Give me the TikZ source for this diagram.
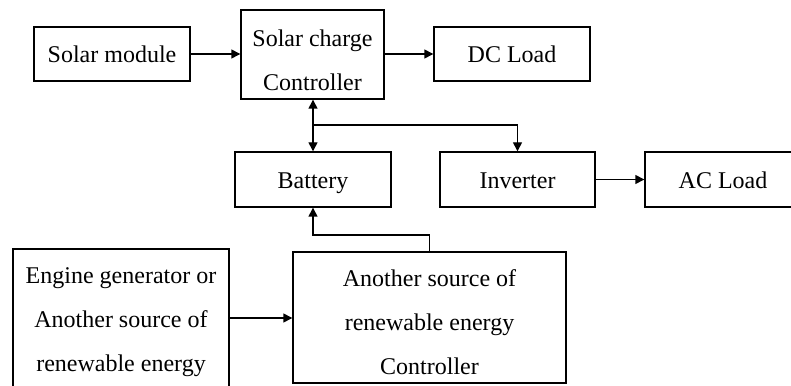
\documentclass[tikz,border=0pt]{standalone}
\usepackage{fontspec}
\setmainfont{Liberation Serif}
\usetikzlibrary{arrows.meta}
\newcommand{\topstrut}[1]{\rule{0pt}{#1pt}}
\newcommand{\botstrut}[1]{\rule[-#1pt]{0pt}{#1pt}}
\begin{document}
\begin{tikzpicture}[x=1pt,y=1pt,
  box/.style={draw,line width=1.4pt,rectangle,inner sep=0pt,align=center,
    font=\fontsize{24}{44}\selectfont},
  one/.style={text height=20pt,text depth=2pt},
  conn/.style={line width=1.4pt,-{Triangle[length=9pt,width=9pt]}},
  dconn/.style={line width=1.4pt,{Triangle[length=9pt,width=9pt]}-{Triangle[length=9pt,width=9pt]}}]
\useasboundingbox (0,0) rectangle (791,385);
\clip (0,0) rectangle (791,385);
\fill[white] (0,0) rectangle (791,385);
\node[box,one,minimum width=156pt,minimum height=54pt] (sm) at (112,331) {Solar module};
\node[box,minimum width=143pt,minimum height=89pt] (scc) at (312.5,330.5) {\topstrut{30}Solar charge\\Controller\botstrut{1.5}};
\node[box,one,minimum width=156pt,minimum height=54pt] (dc) at (512,331) {DC Load};
\node[box,one,minimum width=156pt,minimum height=55pt] (bat) at (313,205.5) {Battery};
\node[box,one,minimum width=155pt,minimum height=55pt] (inv) at (517.5,205.5) {Inverter};
\node[box,one,minimum width=156pt,minimum height=55pt] (ac) at (723,205.5) {AC Load};
\node[box,minimum width=216pt,minimum height=138pt] (eng) at (121,67) {\topstrut{24}Engine generator or\\Another source of\\renewable energy\botstrut{1}};
\node[box,minimum width=273pt,minimum height=131pt] (ctrl) at (429.5,67.5) {\topstrut{28}Another source of\\renewable energy\\Controller\botstrut{1.5}};
\coordinate (jn) at (313,260);
\coordinate (cb) at (429.5,150);
\draw[conn] (sm.east) -- (sm.east -| scc.west);
\draw[conn] (scc.east |- dc.west) -- (dc.west);
\draw[dconn] (scc.south -| bat.north) -- (bat.north);
\draw[conn] (jn) -| (inv.north);
\draw[conn] (inv.east) -- (ac.west);
\draw[conn] (eng.east) -- (eng.east -| ctrl.west);
\draw[conn] (ctrl.north) -- (cb) -| (bat.south);
\end{tikzpicture}
\end{document}
